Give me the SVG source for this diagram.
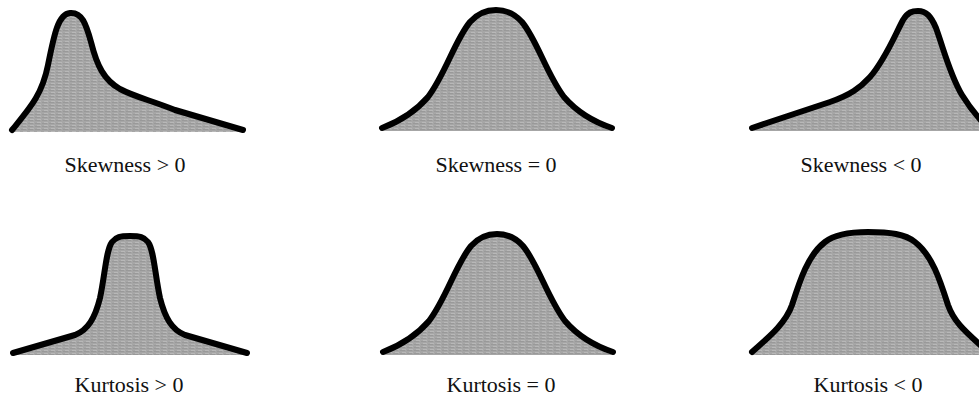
<svg xmlns="http://www.w3.org/2000/svg" width="979" height="398" viewBox="0 0 979 398">
<defs>
<pattern id="tex" width="7" height="3" patternUnits="userSpaceOnUse">
<rect width="7" height="3" fill="#a6a6a6"/>
<rect y="0" width="5" height="1" fill="#999999"/>
<rect x="2" y="2" width="4" height="1" fill="#b8b8b8"/>
</pattern>
</defs>
<style>
.fill{fill:url(#tex);stroke:none}
.curve{fill:none;stroke:#000;stroke-width:6;stroke-linejoin:round;stroke-linecap:round}
.lbl{font-family:"Liberation Serif","Times New Roman",serif;font-size:22px;fill:#111;text-anchor:middle}
</style>
<rect width="979" height="398" fill="#fff"/>
<g id="skew-pos">
<path class="fill" d="M12,130 C30,108 42,95 48,65 C54,35 58,14 70,13 C82,12 86,24 91,42 C97,66 104,80 120,89 C135,97 150,100 175,110 L243,130 L243,132 L12,132 Z"/>
<path class="curve" d="M12,130 C30,108 42,95 48,65 C54,35 58,14 70,13 C82,12 86,24 91,42 C97,66 104,80 120,89 C135,97 150,100 175,110 L243,130"/>
<text class="lbl" x="125" y="172">Skewness &gt; 0</text>
</g>
<g id="skew-zero">
<path class="fill" d="M382,128 C398,122 415,112 428,97 C445,75 455,40 470,22 C478,13 486,10 496,10 C506,10 514,13 522,22 C537,40 547,75 564,97 C577,112 594,122 612,128 L612,131 L382,131 Z"/>
<path class="curve" d="M382,128 C398,122 415,112 428,97 C445,75 455,40 470,22 C478,13 486,10 496,10 C506,10 514,13 522,22 C537,40 547,75 564,97 C577,112 594,122 612,128"/>
<text class="lbl" x="496" y="172">Skewness = 0</text>
</g>
<g id="skew-neg">
<path class="fill" d="M752,128 L830,102 C850,95 860,88 870,77 C885,60 895,35 903,20 C908,12 912,11 918,11 C926,11 931,16 936,28 C944,50 950,75 962,95 C970,108 978,118 990,130 L990,131 L752,131 Z"/>
<path class="curve" d="M752,128 L830,102 C850,95 860,88 870,77 C885,60 895,35 903,20 C908,12 912,11 918,11 C926,11 931,16 936,28 C944,50 950,75 962,95 C970,108 978,118 990,130"/>
<text class="lbl" x="861" y="172">Skewness &lt; 0</text>
</g>
<g id="kurt-pos">
<path class="fill" d="M13,353 L75,335 C88,330 95,318 100,298 C105,275 106,250 112,242 C116,237 120,236 130,236 C140,236 144,237 148,242 C154,250 155,275 160,298 C165,318 172,330 185,335 L247,353 L247,355 L13,355 Z"/>
<path class="curve" d="M13,353 L75,335 C88,330 95,318 100,298 C105,275 106,250 112,242 C116,237 120,236 130,236 C140,236 144,237 148,242 C154,250 155,275 160,298 C165,318 172,330 185,335 L247,353"/>
<text class="lbl" x="129" y="392">Kurtosis &gt; 0</text>
</g>
<g id="kurt-zero" transform="translate(1,224)">
<path class="fill" d="M382,128 C398,122 415,112 428,97 C445,75 455,40 470,22 C478,13 486,10 496,10 C506,10 514,13 522,22 C537,40 547,75 564,97 C577,112 594,122 612,128 L612,131 L382,131 Z"/>
<path class="curve" d="M382,128 C398,122 415,112 428,97 C445,75 455,40 470,22 C478,13 486,10 496,10 C506,10 514,13 522,22 C537,40 547,75 564,97 C577,112 594,122 612,128"/>
<text class="lbl" x="500" y="168">Kurtosis = 0</text>
</g>
<g id="kurt-neg">
<path class="fill" d="M752,352 C765,340 785,325 792,305 C800,280 808,255 825,242 C835,234 850,232 868,232 C890,232 905,234 915,242 C932,255 940,280 948,305 C955,325 970,335 990,354 L990,355 L752,355 Z"/>
<path class="curve" d="M752,352 C765,340 785,325 792,305 C800,280 808,255 825,242 C835,234 850,232 868,232 C890,232 905,234 915,242 C932,255 940,280 948,305 C955,325 970,335 990,354"/>
<text class="lbl" x="868" y="392">Kurtosis &lt; 0</text>
</g>
<g id="connectors"/>
</svg>
